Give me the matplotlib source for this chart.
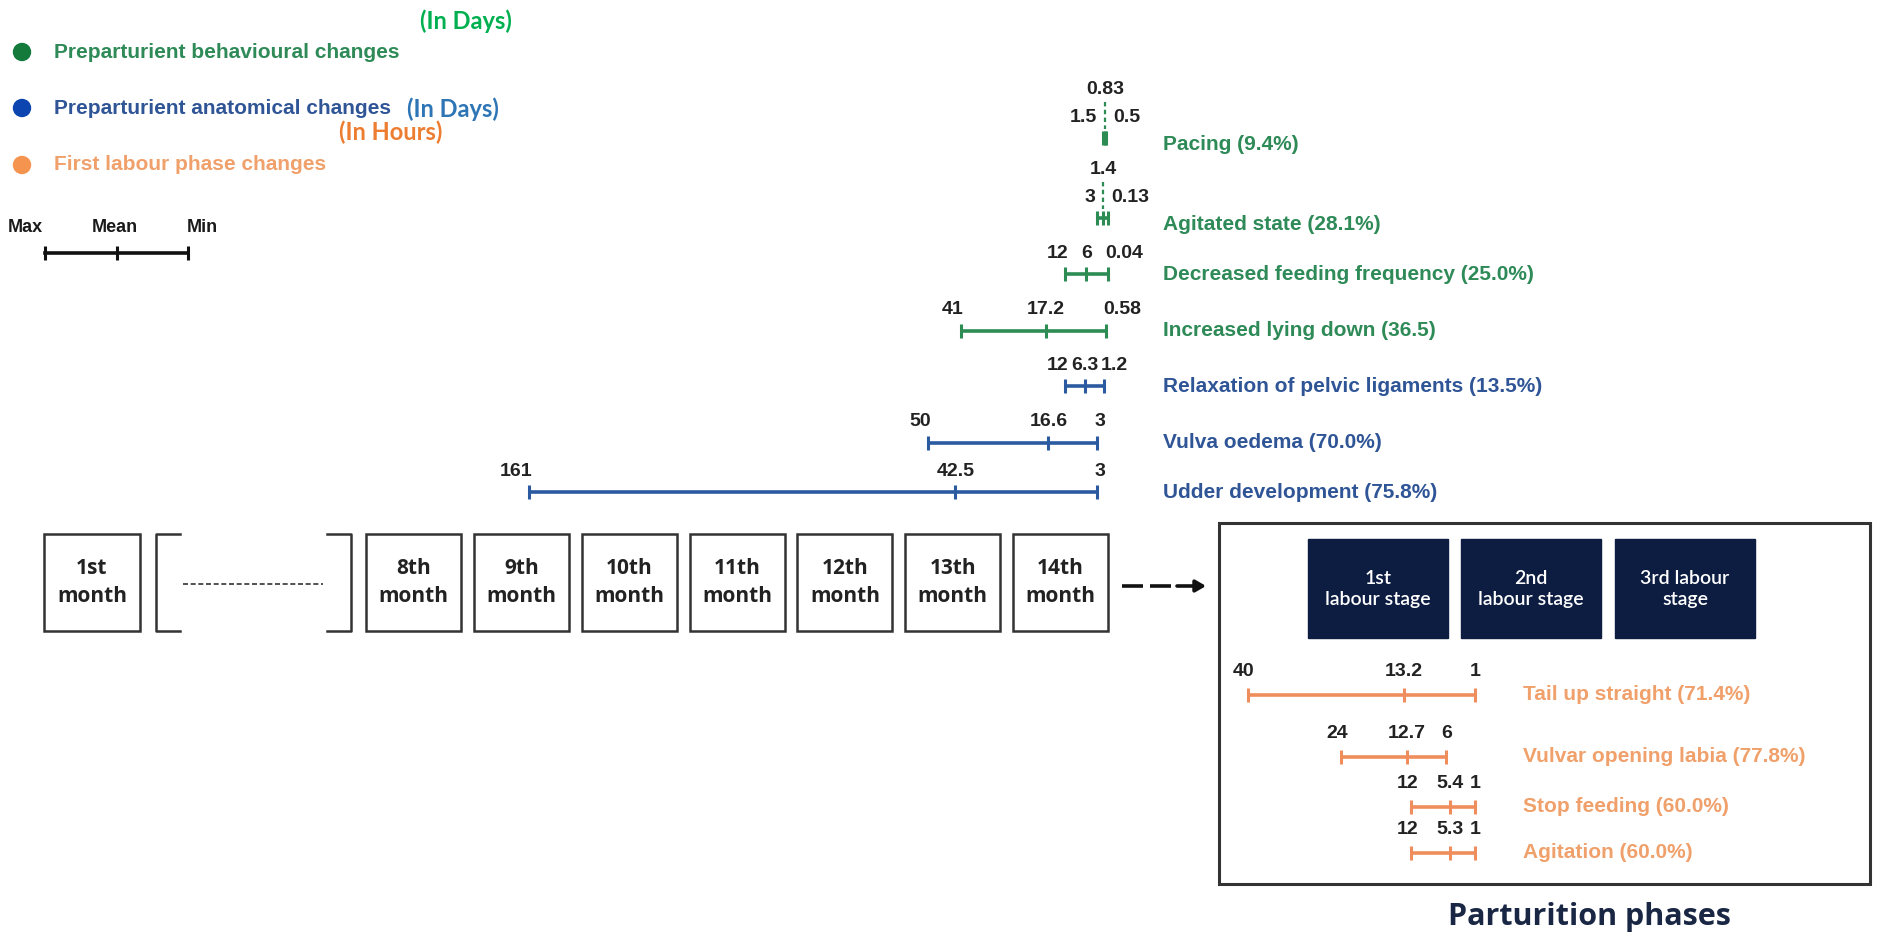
"""Gestation timeline with preparturient / first labour phase change intervals -> out.png"""
import matplotlib

matplotlib.use("Agg")
import matplotlib.pyplot as plt  # noqa: E402
from matplotlib.patches import Circle, Rectangle  # noqa: E402

# ---- data -------------------------------------------------------------
DAY_EVENTS = ["Pacing (9.4%)", "Agitated state (28.1%)",
              "Decreased feeding frequency (25.0%)", "Increased lying down (36.5)",
              "Relaxation of pelvic ligaments (13.5%)", "Vulva oedema (70.0%)",
              "Udder development (75.8%)"]
DAY_GROUP = ["behav", "behav", "behav", "behav", "anat", "anat", "anat"]
DAY_MAX = [1.5, 3, 12, 41, 12, 50, 161]
DAY_MEAN = [0.83, 1.4, 6, 17.2, 6.3, 16.6, 42.5]
DAY_MIN = [0.5, 0.13, 0.04, 0.58, 1.2, 3, 3]

HOUR_EVENTS = ["Tail up straight (71.4%)", "Vulvar opening labia (77.8%)",
               "Stop feeding (60.0%)", "Agitation (60.0%)"]
HOUR_MAX = [40, 24, 12, 12]
HOUR_MEAN = [13.2, 12.7, 5.4, 5.3]
HOUR_MIN = [1, 6, 1, 1]

MONTHS = ["8th", "9th", "10th", "11th", "12th", "13th", "14th"]
STAGES = ["1st\nlabour stage", "2nd\nlabour stage", "3rd labour\nstage"]

# ---- style / layout ---------------------------------------------------
W, H = 1878, 936
GREEN, BLUE, ORANGE = "#2e8a57", "#2f5597", "#f0a06a"
BAR = {"behav": "#2d8c54", "anat": "#2b5aa0", "hours": "#ef8d5c"}
TXT = {"behav": GREEN, "anat": BLUE, "hours": ORANGE}
NAVY = "#0d1d42"
NUM = "#222222"
SANS = ["Liberation Sans", "DejaVu Sans"]

X0_DAYS = 1108            # pixel of day 0 (end of 14th month)
PX_PER_DAY = 107.8 / 30   # one month box per 30 days
X0_HOURS = 1481
PX_PER_HOUR = 5.83
ROW_Y_DAYS = [138, 218, 274, 331, 386, 443, 492]
ROW_Y_HOURS = [695, 757, 807, 853]

fig = plt.figure(figsize=(W / 100, H / 100), dpi=100)
canvas = fig.add_axes([0, 0, 1, 1])
canvas.set_xlim(0, W)
canvas.set_ylim(H, 0)
canvas.axis("off")

axd = fig.add_axes([0, 0, 1, 1])
axd.set_xlim(X0_DAYS / PX_PER_DAY, (X0_DAYS - W) / PX_PER_DAY)
axd.set_ylim(H, 0)
axd.axis("off")

axh = fig.add_axes([0, 0, 1, 1])
axh.set_xlim(X0_HOURS / PX_PER_HOUR, (X0_HOURS - W) / PX_PER_HOUR)
axh.set_ylim(H, 0)
axh.axis("off")


def interval(ax, y, hi, mid, lo, color, px_per_unit, lab_dy=21,
             max_dx=3, min_dx=-3):
    ax.plot([hi, lo], [y, y], color=color, lw=2.6, solid_capstyle="butt")
    ax.vlines([hi, mid, lo], y - 7, y + 7, color=color, lw=2.2)
    kw = dict(textcoords="offset pixels", va="center", fontsize=14,
              fontweight="bold", color=NUM, family=SANS)
    if (hi - lo) * px_per_unit < 25:
        # narrow interval: mean label lifted on a dashed leader
        ax.vlines(mid, y - 36, y - 9, color=color, lw=1.6, linestyles=(0, (2, 1.5)))
        ax.annotate(f"{mid:g}", (mid, y), xytext=(0, 49), ha="center", **kw)
        ax.annotate(f"{hi:g}", (mid, y), xytext=(-8, lab_dy), ha="right", **kw)
        ax.annotate(f"{lo:g}", (mid, y), xytext=(8, lab_dy), ha="left", **kw)
    else:
        ax.annotate(f"{hi:g}", (hi, y), xytext=(max_dx, lab_dy), ha="right", **kw)
        ax.annotate(f"{mid:g}", (mid, y), xytext=(0, lab_dy), ha="center", **kw)
        ax.annotate(f"{lo:g}", (lo, y), xytext=(min_dx, lab_dy), ha="left", **kw)


# ---- legend -----------------------------------------------------------
leg = [("Preparturient behavioural changes", "#137a3c", GREEN, 52),
       ("Preparturient anatomical changes", "#0c45b0", BLUE, 108),
       ("First labour phase changes", "#f5944f", ORANGE, 165)]
for text, dot, col, y in leg:
    canvas.add_patch(Circle((22, y), 8.5, color=dot))
    canvas.text(54, y, text, color=col, fontsize=15, fontweight="bold",
                family=SANS, va="center")
canvas.text(466, 21, "(In Days)", color="#00b050", fontsize=17,
            fontweight="bold", family="Lato", ha="center", va="center")
canvas.text(407, 109, "(In Days)", color="#2e75b6", fontsize=17,
            fontweight="bold", family="Lato", va="center")
canvas.text(339, 132, "(In Hours)", color="#ed7d31", fontsize=17,
            fontweight="bold", family="Lato", va="center")

# max / mean / min key
for x, t in [(25, "Max"), (115, "Mean"), (202, "Min")]:
    canvas.text(x, 228, t, fontsize=13, fontweight="bold", family=SANS,
                color="#1a1a1a", ha="center", va="center")
canvas.plot([45, 188], [253, 253], color="#111", lw=2.6)
canvas.vlines([45, 116.5, 188], 246, 260, color="#111", lw=2.2)

# ---- day-scale intervals ------------------------------------------------
for i, name in enumerate(DAY_EVENTS):
    y = ROW_Y_DAYS[i]
    g = DAY_GROUP[i]
    interval(axd, y, DAY_MAX[i], DAY_MEAN[i], DAY_MIN[i], BAR[g], PX_PER_DAY)
    dy = 6 if (DAY_MAX[i] - DAY_MIN[i]) * PX_PER_DAY < 25 else 0
    canvas.text(1163, y + dy, name, color=TXT[g], fontsize=15, fontweight="bold",
                family=SANS, va="center")

# ---- month boxes --------------------------------------------------------
BOX_TOP, BOX_H = 534, 97
box_w_days = 95 / PX_PER_DAY
month_kw = dict(ha="center", va="center", fontsize=15, fontweight="bold",
                family="Open Sans", color="#222", linespacing=1.4)
for i, m in enumerate(MONTHS):
    right = (len(MONTHS) - 1 - i) * 30
    axd.add_patch(Rectangle((right, BOX_TOP), box_w_days, BOX_H, fill=False,
                            ec="#333", lw=1.8))
    axd.text(right + box_w_days / 2, BOX_TOP + BOX_H / 2, f"{m}\nmonth", **month_kw)

canvas.add_patch(Rectangle((44, BOX_TOP), 96, BOX_H, fill=False, ec="#333", lw=1.8))
canvas.text(92, BOX_TOP + BOX_H / 2, "1st\nmonth", **month_kw)
canvas.plot([180, 156, 156, 180], [BOX_TOP, BOX_TOP, BOX_TOP + BOX_H, BOX_TOP + BOX_H],
            color="#333", lw=1.8)
canvas.plot([327, 351, 351, 327], [BOX_TOP, BOX_TOP, BOX_TOP + BOX_H, BOX_TOP + BOX_H],
            color="#333", lw=1.8)
canvas.plot([183, 323], [584, 584], color="#333", lw=1.2, linestyle=(0, (3, 1.6)))

# dashed arrow to the parturition panel
for a, b in [(1122, 1143), (1150, 1171)]:
    canvas.plot([a, b], [586, 586], color="#111", lw=2.6, solid_capstyle="butt")
canvas.annotate("", xy=(1206, 586), xytext=(1177, 586),
                arrowprops=dict(arrowstyle="-|>,head_length=0.6,head_width=0.35",
                                lw=2.6, color="#111", shrinkA=0, shrinkB=0))

# ---- parturition panel --------------------------------------------------
canvas.add_patch(Rectangle((1219, 523), 651, 361, fill=False, ec="#333", lw=2.2))
for x, s in zip([1308, 1461, 1615], STAGES):
    canvas.add_patch(Rectangle((x, 539), 140, 99, color=NAVY))
    canvas.text(x + 70, 589, s, color="white", fontsize=14, family="Lato",
                fontweight="semibold", ha="center", va="center", linespacing=1.35)

for i, name in enumerate(HOUR_EVENTS):
    y = ROW_Y_HOURS[i]
    interval(axh, y, HOUR_MAX[i], HOUR_MEAN[i], HOUR_MIN[i], BAR["hours"],
             PX_PER_HOUR, lab_dy=23, max_dx=7, min_dx=-5)
    canvas.text(1523, y, name, color=ORANGE, fontsize=15, fontweight="bold",
                family=SANS, va="center")

canvas.text(1589, 917, "Parturition phases", color="#1a2744", fontsize=22,
            fontweight="bold", family="Open Sans", ha="center", va="center")

fig.savefig("out.png", dpi=100)
